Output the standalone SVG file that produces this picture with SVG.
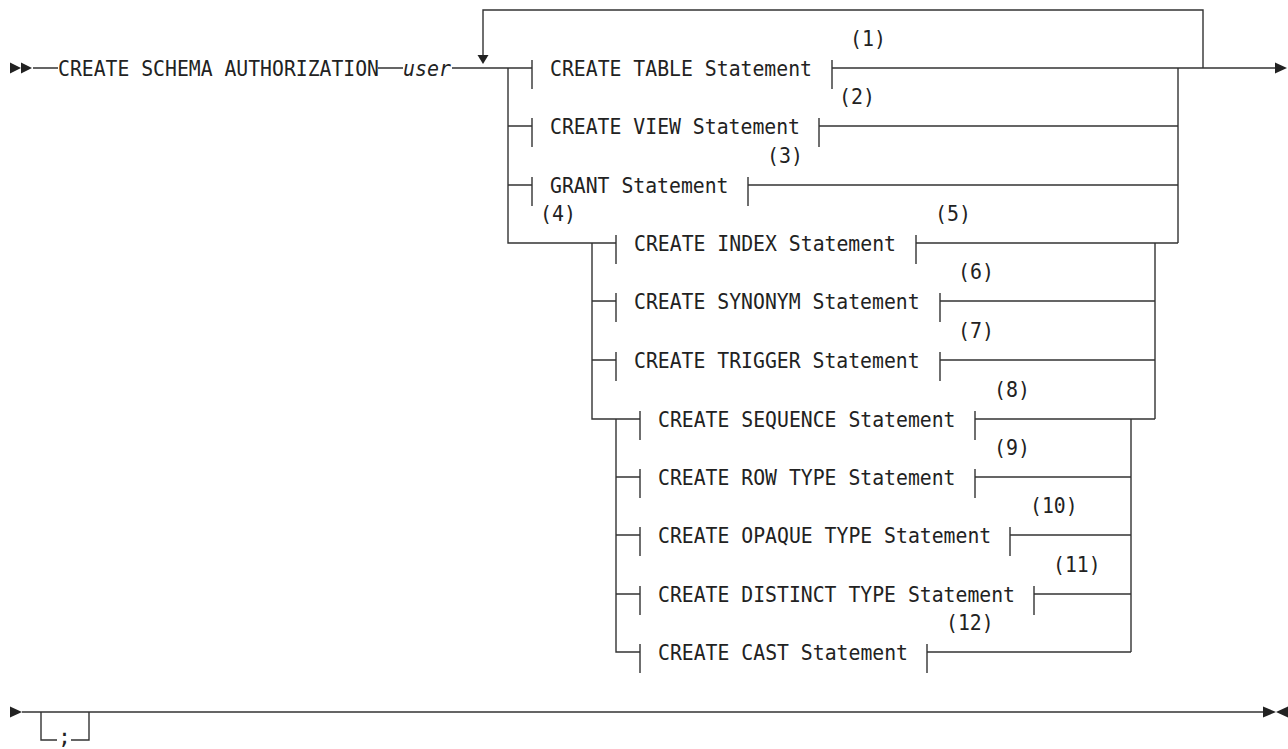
<svg xmlns="http://www.w3.org/2000/svg" width="1288" height="749" viewBox="0 0 1288 749">
<style>
.l{stroke:#333;stroke-width:1.4;fill:none}
.t{font-family:"DejaVu Sans Mono","Liberation Mono",monospace;font-size:21.5px;fill:#222}
.a{fill:#222;stroke:none}
</style>
<rect width="1288" height="749" fill="#fff"/>
<g id="connectors">
<path class="l" d="M33 68H58M378 68H403M452 68H532"/>
<path class="l" d="M1203 68V10H483V57"/>
<polygon class="a" points="477.5,55 488.5,55 483,64"/>
<path class="l" d="M508 68V243H616M508 126H532M508 185H532"/>
<path class="l" d="M592 243V419H640M592 301H616M592 360H616"/>
<path class="l" d="M616 419V652H640M616 477H640M616 535H640M616 594H640"/>
<path class="l" d="M832 68H1275M819 126H1178M748 185H1178M1178 68V243M916 243H1178"/>
<path class="l" d="M940 301H1155M940 360H1155M1155 243V419M975 419H1155"/>
<path class="l" d="M975 477H1131M1010 535H1131M1034 594H1131M927 652H1131M1131 419V652"/>
<polygon class="a" points="1275,62.5 1287,68 1275,73.5"/>
<polygon class="a" points="10,62.5 21,68 10,73.5"/>
<polygon class="a" points="21,62.5 32,68 21,73.5"/>
<path class="l" d="M22 712H1263M41 712V740H57M71 740H89V712"/>
<polygon class="a" points="10,706.5 22,712 10,717.5"/>
<polygon class="a" points="1263,706.5 1276,712 1263,717.5"/>
<polygon class="a" points="1288,706.5 1276,712 1288,717.5"/>
</g>
<g id="start">
<text class="t" x="58" y="75.5" textLength="321" lengthAdjust="spacingAndGlyphs">CREATE SCHEMA AUTHORIZATION</text>
<text class="t" x="403" y="75.5" font-style="italic" textLength="48" lengthAdjust="spacingAndGlyphs">user</text>
</g>
<g id="n1"><path class="l" d="M532 60V89M832 60V89"/><text class="t" x="550" y="75.5" textLength="262" lengthAdjust="spacingAndGlyphs">CREATE TABLE Statement</text><text class="t" x="850" y="46" textLength="36" lengthAdjust="spacingAndGlyphs">(1)</text></g>
<g id="n2"><path class="l" d="M532 118V147M819 118V147"/><text class="t" x="550" y="133.5" textLength="250" lengthAdjust="spacingAndGlyphs">CREATE VIEW Statement</text><text class="t" x="839" y="104" textLength="36" lengthAdjust="spacingAndGlyphs">(2)</text></g>
<g id="n3"><path class="l" d="M532 177V206M748 177V206"/><text class="t" x="550" y="192.5" textLength="178.5" lengthAdjust="spacingAndGlyphs">GRANT Statement</text><text class="t" x="767" y="163" textLength="36" lengthAdjust="spacingAndGlyphs">(3)</text></g>
<text class="t" x="540" y="221" textLength="36" lengthAdjust="spacingAndGlyphs">(4)</text>
<g id="n5"><path class="l" d="M616 235V264M916 235V264"/><text class="t" x="634" y="250.5" textLength="262" lengthAdjust="spacingAndGlyphs">CREATE INDEX Statement</text><text class="t" x="935" y="221" textLength="36" lengthAdjust="spacingAndGlyphs">(5)</text></g>
<g id="n6"><path class="l" d="M616 293V322M940 293V322"/><text class="t" x="634" y="308.5" textLength="285.6" lengthAdjust="spacingAndGlyphs">CREATE SYNONYM Statement</text><text class="t" x="958" y="279" textLength="36" lengthAdjust="spacingAndGlyphs">(6)</text></g>
<g id="n7"><path class="l" d="M616 352V381M940 352V381"/><text class="t" x="634" y="367.5" textLength="285.6" lengthAdjust="spacingAndGlyphs">CREATE TRIGGER Statement</text><text class="t" x="958" y="338" textLength="36" lengthAdjust="spacingAndGlyphs">(7)</text></g>
<g id="n8"><path class="l" d="M640 411V440M975 411V440"/><text class="t" x="658" y="426.5" textLength="297.5" lengthAdjust="spacingAndGlyphs">CREATE SEQUENCE Statement</text><text class="t" x="994" y="397" textLength="36" lengthAdjust="spacingAndGlyphs">(8)</text></g>
<g id="n9"><path class="l" d="M640 469V498M975 469V498"/><text class="t" x="658" y="484.5" textLength="297.5" lengthAdjust="spacingAndGlyphs">CREATE ROW TYPE Statement</text><text class="t" x="994" y="455" textLength="36" lengthAdjust="spacingAndGlyphs">(9)</text></g>
<g id="n10"><path class="l" d="M640 527V556M1010 527V556"/><text class="t" x="658" y="542.5" textLength="333.2" lengthAdjust="spacingAndGlyphs">CREATE OPAQUE TYPE Statement</text><text class="t" x="1030" y="513" textLength="47.6" lengthAdjust="spacingAndGlyphs">(10)</text></g>
<g id="n11"><path class="l" d="M640 586V615M1034 586V615"/><text class="t" x="658" y="601.5" textLength="357" lengthAdjust="spacingAndGlyphs">CREATE DISTINCT TYPE Statement</text><text class="t" x="1053" y="572" textLength="47.6" lengthAdjust="spacingAndGlyphs">(11)</text></g>
<g id="n12"><path class="l" d="M640 644V673M927 644V673"/><text class="t" x="658" y="659.5" textLength="250" lengthAdjust="spacingAndGlyphs">CREATE CAST Statement</text><text class="t" x="946" y="630" textLength="47.6" lengthAdjust="spacingAndGlyphs">(12)</text></g>
<g id="semi"><text class="t" x="58" y="744">;</text></g>
</svg>
